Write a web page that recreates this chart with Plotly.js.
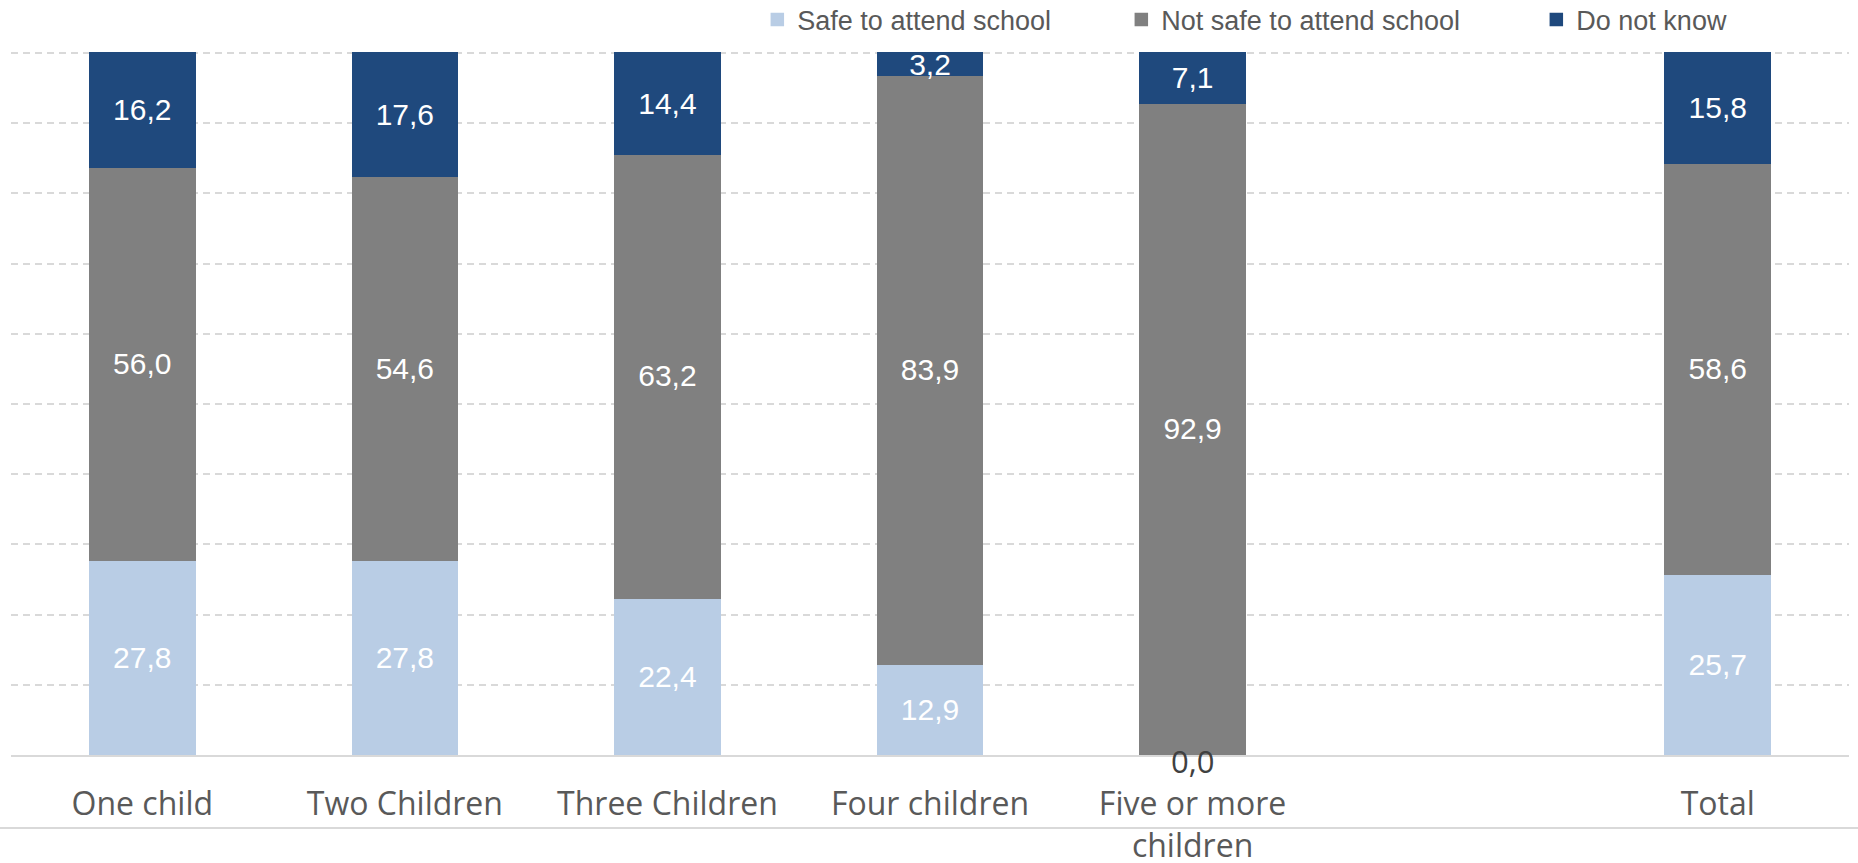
<!DOCTYPE html>
<html>
<head>
<meta charset="utf-8">
<script src="https://cdn.plot.ly/plotly-3.0.1.min.js"></script>
<style>
  html, body { margin: 0; padding: 0; background: #ffffff; }
  #chart { width: 1858px; height: 863px; }
</style>
</head>
<body>
<div id="chart"></div>
<script>
// ---- data ----
const categories = ["One child", "Two Children", "Three Children", "Four children", "Five or more<br>children", " ", "Total"];
const safeValues = [27.8, 27.8, 22.4, 12.9, 0.0, null, 25.7];
const notSafeValues = [56.0, 54.6, 63.2, 83.9, 92.9, null, 58.6];
const dontKnowValues = [16.2, 17.6, 14.4, 3.2, 7.1, null, 15.8];
const seriesNames = ["Safe to attend school", "Not safe to attend school", "Do not know"];

// ---- helpers ----
function fmt(v) { return v.toFixed(1).replace('.', ','); }
function labels(vals) { return vals.map(v => (v === null || v === 0) ? '' : fmt(v)); }

const colors = ['#B9CDE5', '#808080', '#1F497D'];
const legendWidths = [319, 370, null];
const allSeries = [safeValues, notSafeValues, dontKnowValues];

const traces = allSeries.map((vals, i) => {
  const t = {
    type: 'bar',
    name: seriesNames[i],
    x: categories,
    y: vals,
    marker: { color: colors[i], line: { width: 1.5, color: colors[i] } },
    text: labels(vals),
    textposition: 'inside',
    insidetextanchor: 'middle',
    constraintext: 'none',
    textangle: 0,
    textfont: { family: 'Liberation Sans, Arial, sans-serif', size: 30, color: '#ffffff' },
    hoverinfo: 'skip'
  };
  if (legendWidths[i]) t.legendwidth = legendWidths[i];
  return t;
});

// zero-valued segments: label drawn just below the baseline (as in the original)
const annotations = [];
allSeries.forEach((vals, i) => {
  vals.forEach((v, j) => {
    if (v === 0) {
      let base = 0;
      for (let k = 0; k < i; k++) base += allSeries[k][j] || 0;
      annotations.push({
        x: categories[j], y: base, xref: 'x', yref: 'y',
        text: fmt(v), showarrow: false, yanchor: 'middle', yshift: -6,
        font: { family: 'Open Sans, sans-serif', size: 31, color: '#404040' }
      });
    }
  });
});

const layout = {
  width: 1858, height: 863,
  margin: { l: 11, r: 9, t: 52, b: 108, pad: 0 },
  paper_bgcolor: '#ffffff', plot_bgcolor: '#ffffff',
  barmode: 'stack',
  bargap: 0.6,
  showlegend: true,
  legend: {
    orientation: 'h', xref: 'container', yref: 'container',
    x: 0.4076, xanchor: 'left', y: 0.977, yanchor: 'middle',
    font: { family: 'Liberation Sans, Arial, sans-serif', size: 27, color: '#595959' },
    traceorder: 'normal', bgcolor: 'rgba(0,0,0,0)'
  },
  xaxis: {
    type: 'category',
    showgrid: false, zeroline: false,
    showline: true, linecolor: '#D9D9D9', linewidth: 2,
    ticks: '', ticklabelstandoff: 20,
    tickfont: { family: 'Open Sans, sans-serif', size: 32, color: '#595959' },
    fixedrange: true
  },
  yaxis: {
    range: [0, 100.15], dtick: 10,
    showticklabels: false, ticks: '',
    showgrid: true, gridcolor: '#D9D9D9', gridwidth: 2, griddash: '7px,5px',
    zeroline: false, showline: false,
    fixedrange: true
  },
  annotations: annotations,
  shapes: [{
    type: 'line', xref: 'paper', yref: 'paper',
    x0: -0.006, x1: 1.005, y0: -0.1038, y1: -0.1038,
    line: { color: '#D9D9D9', width: 2 }
  }]
};

Plotly.newPlot('chart', traces, layout, { displayModeBar: false, staticPlot: true });
</script>
</body>
</html>
